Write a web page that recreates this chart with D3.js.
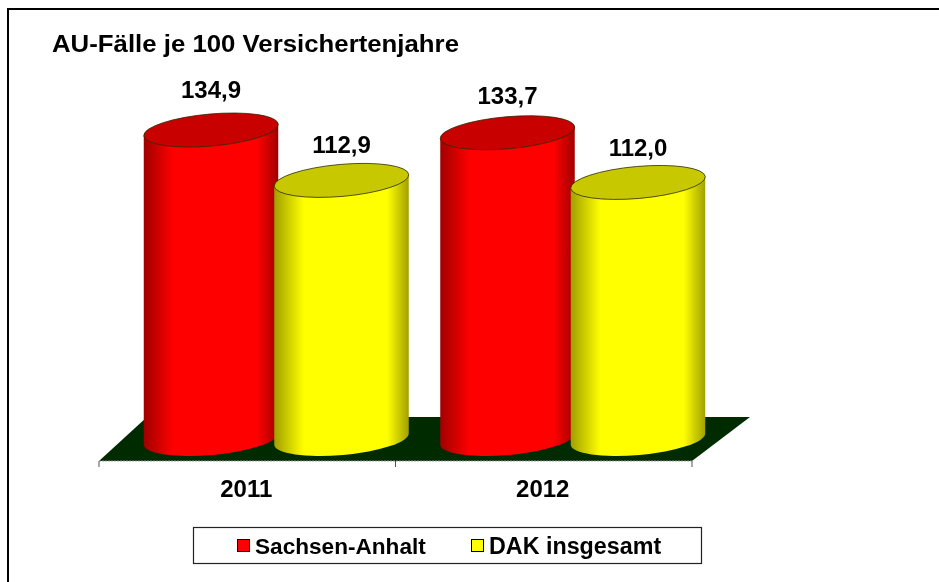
<!DOCTYPE html>
<html><head><meta charset="utf-8">
<script src="https://cdnjs.cloudflare.com/ajax/libs/d3/7.8.5/d3.min.js"></script>
<style>html,body{margin:0;background:#fff}svg{display:block;filter:blur(0.35px)}text{font-family:"Liberation Sans",Arial,sans-serif;font-weight:700;fill:#000}</style>
</head><body><svg id="c" width="939" height="582"></svg>
<script>
const titleText = "AU-Fälle je 100 Versichertenjahre";
const years = ["2011", "2012"];
const seriesNames = ["Sachsen-Anhalt", "DAK insgesamt"];
const sachsenAnhalt = [134.9, 133.7];
const dakInsgesamt = [112.9, 112.0];
const seriesValues = [sachsenAnhalt, dakInsgesamt];
const bodyColors = ["#ff0000", "#ffff00"];
const edgeColors = ["#a00000", "#a0a000"];
const topColors = ["#c80000", "#c8c800"];
const fmt = v => v.toFixed(1).replace(".", ",");

const svg = d3.select("#c");
const x = d3.scaleBand().domain(years).range([99, 692]);
const s = d3.scalePoint().domain(seriesNames).range([112, 242.5]);
const y = d3.scaleLinear().domain([0, 134.9]).range([439, 130]);
const RX = 67.5, RY = 16, TILT = -5, T = TILT * Math.PI / 180;
const labelOffset = [[32.5, 28.5], [27, 26]];

const defs = svg.append("defs");
seriesNames.forEach((n, i) => {
  const g = defs.append("linearGradient").attr("id", "g" + i);
  [[0, edgeColors[i]], [0.22, bodyColors[i]], [0.84, bodyColors[i]], [1, edgeColors[i]]]
    .forEach(([o, c]) => g.append("stop").attr("offset", o).attr("stop-color", c));
});

svg.append("path").attr("d", "M8 582V9H939").attr("fill", "none").attr("stroke", "#000").attr("stroke-width", 2);

svg.append("text").attr("x", 52).attr("y", 52).attr("font-size", 23.5)
  .attr("textLength", 407).attr("lengthAdjust", "spacingAndGlyphs").text(titleText);

const x0 = x.range()[0], x1 = x.range()[1], yF = 461, yB = 417;
svg.append("path").attr("d", `M${x0} ${yF}L147 ${yB}H750L${x1} ${yF}Z`).attr("fill", "#002a00");
svg.append("line").attr("x1", x0).attr("x2", x1).attr("y1", yF).attr("y2", yF)
  .attr("stroke", "#999").attr("stroke-dasharray", "2 1");

[...years.map(d => x(d)), x1].forEach(t =>
  svg.append("line").attr("x1", t).attr("x2", t).attr("y1", yF).attr("y2", yF + 6).attr("stroke", "#555").attr("stroke-width", 1));

svg.selectAll(".yr").data(years).join("text").attr("class", "yr")
  .attr("x", d => x(d) + x.bandwidth() / 2 - 1).attr("y", 497).attr("text-anchor", "middle")
  .attr("font-size", 24).text(d => d);

years.forEach((yr, yi) => {
  seriesNames.forEach((n, si) => {
    const v = seriesValues[si][yi];
    const cx = x(yr) + s(n), top = y(v), base = y(0);
    const dx = RX * Math.cos(T), dy = RX * Math.sin(T);
    svg.append("path")
      .attr("d", `M${cx - dx} ${top - dy}L${cx - dx} ${base - dy}A${RX} ${RY} ${TILT} 0 0 ${cx + dx} ${base + dy}L${cx + dx} ${top + dy}Z`)
      .attr("fill", `url(#g${si})`);
    svg.append("path")
      .attr("d", `M${cx - dx} ${top - dy}A${RX} ${RY} ${TILT} 1 1 ${cx + dx} ${top + dy}A${RX} ${RY} ${TILT} 1 1 ${cx - dx} ${top - dy}Z`)
      .attr("fill", topColors[si]).attr("stroke", "#2a2a00").attr("stroke-width", 0.8);
    svg.append("text").attr("x", cx).attr("y", top - labelOffset[si][yi]).attr("text-anchor", "middle")
      .attr("font-size", 24).text(fmt(v));
  });
});

svg.append("rect").attr("x", 193.5).attr("y", 527.5).attr("width", 508).attr("height", 36)
  .attr("fill", "#fff").attr("stroke", "#222").attr("stroke-width", 1.2);
const legX = [237, 471];
const legSize = [22.6, 23.3];
seriesNames.forEach((n, i) => {
  svg.append("rect").attr("x", legX[i] + .5).attr("y", 539.5).attr("width", 12).attr("height", 12)
    .attr("fill", bodyColors[i]).attr("stroke", "#000").attr("stroke-width", 1);
  svg.append("text").attr("x", legX[i] + 18).attr("y", 553.5).attr("font-size", legSize[i]).text(n);
});
</script></body></html>
